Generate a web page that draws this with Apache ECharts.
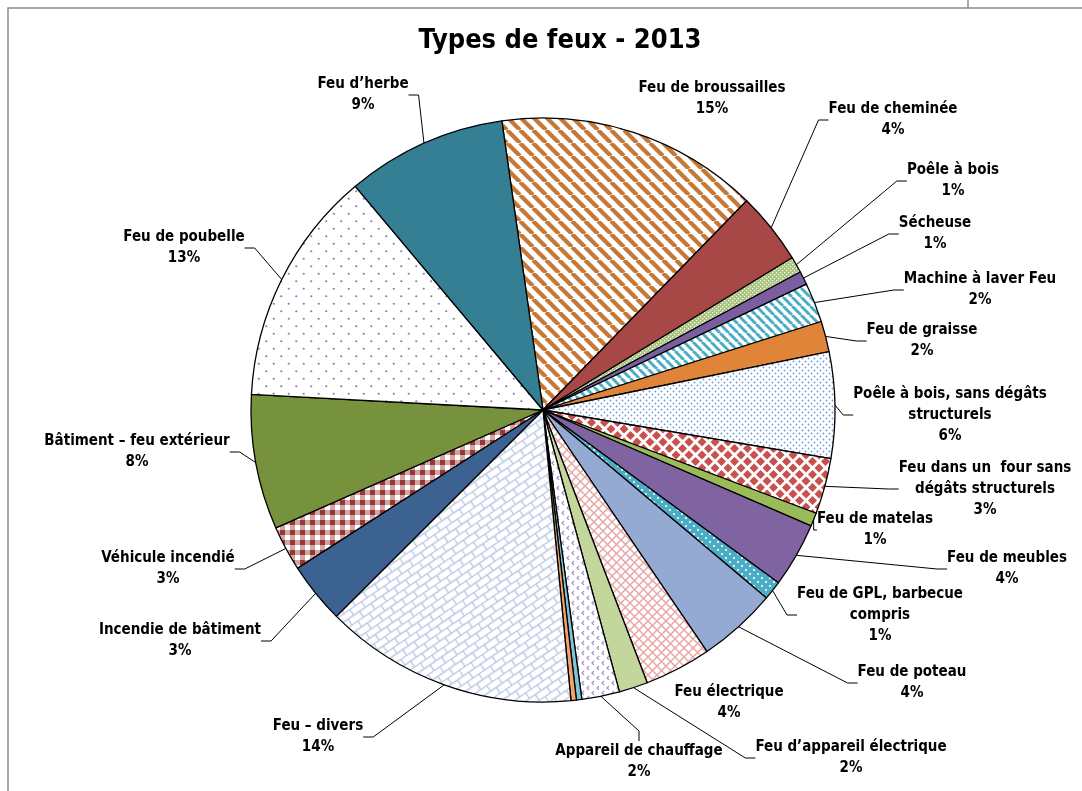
<!DOCTYPE html>
<html><head><meta charset="utf-8">
<script src="https://cdn.jsdelivr.net/npm/echarts@6/dist/echarts.min.js"></script>
<style>html,body{margin:0;padding:0;background:#fff}#c{width:1082px;height:791px}</style>
</head><body><div id="c"></div>
<script>
const title = 'Types de feux - 2013';
const categories = [
  'Feu de broussailles', 'Feu de cheminée', 'Poêle à bois', 'Sécheuse', 'Machine à laver Feu',
  'Feu de graisse', 'Poêle à bois, sans dégâts\nstructurels', 'Feu dans un  four sans\ndégâts structurels',
  'Feu de matelas', 'Feu de meubles', 'Feu de GPL, barbecue\ncompris', 'Feu de poteau', 'Feu électrique',
  'Feu d\u2019appareil électrique', 'Appareil de chauffage', 'Autre (a)', 'Autre (b)', 'Feu \u2013 divers',
  'Incendie de bâtiment', 'Véhicule incendié', 'Bâtiment \u2013 feu extérieur', 'Feu de poubelle', 'Feu d\u2019herbe'
];
const values = [14.6, 4.0, 0.9, 0.75, 2.2, 1.7, 5.9, 3.1, 0.75, 3.6, 1.05, 4.4, 3.7, 1.6, 2.1, 0.3, 0.3, 14.1, 3.4, 2.5, 7.5, 13.1, 8.9];
const pctLabels = ['15%', '4%', '1%', '1%', '2%', '2%', '6%', '3%', '1%', '4%', '1%', '4%', '4%', '2%', '2%', '', '', '14%', '3%', '3%', '8%', '13%', '9%'];

// ---------- layout / style (not data) ----------
const FONT = "'Liberation Sans Narrow', 'DejaVu Sans Condensed', sans-serif";
const labelPos = {
  0: [712, 99], 1: [893, 120], 2: [953, 181], 3: [935, 234], 4: [980, 290], 5: [922, 341],
  6: [950, 415], 7: [985, 489], 8: [875, 530], 9: [1007, 569], 10: [880, 615], 11: [912, 683],
  12: [729, 703], 13: [851, 758], 14: [639, 762], 17: [318, 737], 18: [180, 641], 19: [168, 569],
  20: [137, 452], 21: [184, 248], 22: [363, 95]
};
const noLine = { 0: true, 12: true };

function tile(w, h, draw) {
  const c = document.createElement('canvas'); c.width = w; c.height = h;
  const g = c.getContext('2d'); draw(g, w, h); return c;
}
function pat(c, extra) { return Object.assign({ image: c, repeat: 'repeat' }, extra || {}); }
function stripes(fg, bg, s, lw) {
  return pat(tile(s, s, (g) => {
    g.fillStyle = bg; g.fillRect(0, 0, s, s);
    g.strokeStyle = fg; g.lineWidth = lw;
    for (const o of [-s, 0, s]) { g.beginPath(); g.moveTo(o, 0); g.lineTo(o + s, s); g.stroke(); }
  }));
}
function dots(fg, bg, s, r, stagger) {
  return pat(tile(s, s, (g) => {
    g.fillStyle = bg; g.fillRect(0, 0, s, s);
    g.fillStyle = fg;
    g.beginPath(); g.arc(s / 4, s / 4, r, 0, Math.PI * 2); g.fill();
    if (stagger) { g.beginPath(); g.arc(3 * s / 4, 3 * s / 4, r, 0, Math.PI * 2); g.fill(); }
  }));
}
function squareDots(fg, bg, s, d) {
  return pat(tile(s, s, (g) => {
    g.fillStyle = bg; g.fillRect(0, 0, s, s);
    g.fillStyle = fg; g.fillRect(0, 0, d, d); g.fillRect(s / 2, s / 2, d, d);
  }));
}
function diamonds(fg, bg, s, r) {
  return pat(tile(s, s, (g) => {
    g.fillStyle = bg; g.fillRect(0, 0, s, s);
    g.fillStyle = fg;
    const dia = (cx, cy) => { g.beginPath(); g.moveTo(cx, cy - r); g.lineTo(cx + r, cy); g.lineTo(cx, cy + r); g.lineTo(cx - r, cy); g.closePath(); g.fill(); };
    dia(s / 2, s / 2); dia(0, 0); dia(s, 0); dia(0, s); dia(s, s);
  }));
}
function cross(fg, bg, s, lw) {
  return pat(tile(s, s, (g) => {
    g.fillStyle = bg; g.fillRect(0, 0, s, s);
    g.strokeStyle = fg; g.lineWidth = lw;
    for (const o of [-s, 0, s]) {
      g.beginPath(); g.moveTo(o, 0); g.lineTo(o + s, s); g.stroke();
      g.beginPath(); g.moveTo(o + s, 0); g.lineTo(o, s); g.stroke();
    }
  }));
}
function chevrons(fg, bg, s) {
  return pat(tile(s, s, (g) => {
    g.fillStyle = bg; g.fillRect(0, 0, s, s);
    g.strokeStyle = fg; g.lineWidth = 1.2;
    const ch = (x, y) => { g.beginPath(); g.moveTo(x + 2, y - 2); g.lineTo(x, y); g.lineTo(x + 2, y + 2); g.stroke(); };
    ch(2, 3); ch(s / 2 + 2, s / 2 + 3);
  }));
}
function bricks(fg, bg, w, h) {
  return pat(tile(w, h * 2, (g) => {
    g.fillStyle = bg; g.fillRect(0, 0, w, h * 2);
    g.strokeStyle = fg; g.lineWidth = 1.4;
    g.beginPath();
    g.moveTo(0, 0.5); g.lineTo(w, 0.5);
    g.moveTo(0, h + 0.5); g.lineTo(w, h + 0.5);
    g.moveTo(0.5, 0); g.lineTo(0.5, h);
    g.moveTo(w / 2 + 0.5, h); g.lineTo(w / 2 + 0.5, 2 * h);
    g.stroke();
  }), { rotation: -0.6 });
}
function gingham(dark, light, bg, s) {
  return pat(tile(s, s, (g) => {
    g.fillStyle = bg; g.fillRect(0, 0, s, s);
    g.fillStyle = light; g.fillRect(0, 0, s, s / 2); g.fillRect(0, 0, s / 2, s);
    g.fillStyle = bg; g.fillRect(s / 2, s / 2, s / 2, s / 2);
    g.fillStyle = dark; g.fillRect(0, 0, s / 2, s / 2);
  }));
}

const fills = [
  stripes('#C67838', '#ffffff', 13, 4.2),       // broussailles
  '#A84846',                                    // cheminée
  squareDots('#ffffff', '#A9C47F', 4, 1.2),      // poêle à bois
  '#7A5EA0',                                    // sécheuse
  stripes('#4BACC6', '#ffffff', 9, 3),          // machine à laver
  '#E0843A',                                    // graisse
  dots('#6E9BD4', '#ffffff', 6, 0.9, true),      // poêle sans dégâts
  diamonds('#C8504D', '#ffffff', 13, 4.5),      // four
  '#9BBB59',                                    // matelas
  '#8064A2',                                    // meubles
  dots('#ffffff', '#4BACC6', 8, 1.1, true),      // GPL
  '#95AAD2',                                    // poteau
  cross('#E7A6A4', '#ffffff', 9, 1.4),          // électrique
  '#C3D69B',                                    // appareil électrique
  chevrons('#A193CB', '#ffffff', 10),           // chauffage
  '#7FC3D9',                                    // thin blue
  '#F5A26B',                                    // thin orange
  bricks('#B9C6E4', '#ffffff', 14, 7),          // divers
  '#3C6292',                                    // incendie
  gingham('#953735', '#D2A5A4', '#ffffff', 10), // véhicule
  '#77923D',                                    // bâtiment
  dots('#8A7BB0', '#ffffff', 15, 1.1, true),     // poubelle
  '#357F94'                                     // herbe
];

const data = categories.map((name, i) => {
  const item = { name: name, value: values[i], itemStyle: { color: fills[i] } };
  if (!pctLabels[i]) { item.label = { show: false }; item.labelLine = { show: false }; }
  if (noLine[i]) { item.labelLine = { show: false }; }
  return item;
});

const chart = echarts.init(document.getElementById('c'), null, { renderer: 'canvas' });
chart.setOption({
  animation: false,
  backgroundColor: '#ffffff',
  title: {
    text: title, left: 555, top: 22, textAlign: 'center',
    textStyle: { fontFamily: FONT, fontSize: 27, fontWeight: 'bold', color: '#000' }
  },
  graphic: [
    { type: 'rect', shape: { x: 8, y: 8, width: 1200, height: 900 }, style: { fill: 'none', stroke: '#8c8c8c', lineWidth: 1.5 }, silent: true },
    { type: 'line', shape: { x1: 968, y1: 0, x2: 968, y2: 8 }, style: { stroke: '#8c8c8c', lineWidth: 1.5 }, silent: true }
  ],
  series: [{
    type: 'pie',
    center: [543, 410],
    radius: 292,
    startAngle: 98.1,
    clockwise: true,
    minAngle: 0,
    avoidLabelOverlap: false,
    emphasis: { disabled: true },
    itemStyle: { borderColor: '#000', borderWidth: 1.3 },
    label: {
      show: true,
      formatter: (p) => p.name + '\n' + pctLabels[p.dataIndex],
      fontFamily: FONT, fontSize: 15, fontWeight: 'bold', color: '#000',
      lineHeight: 21, align: 'center'
    },
    labelLine: { show: true, length: 15, length2: 10, lineStyle: { color: '#000', width: 1 } },
    labelLayout: function (params) {
      const p = labelPos[params.dataIndex];
      if (!p) return {};
      return { x: p[0], y: p[1], align: 'center', verticalAlign: 'middle' };
    },
    data: data
  }]
});
</script>
</body></html>
